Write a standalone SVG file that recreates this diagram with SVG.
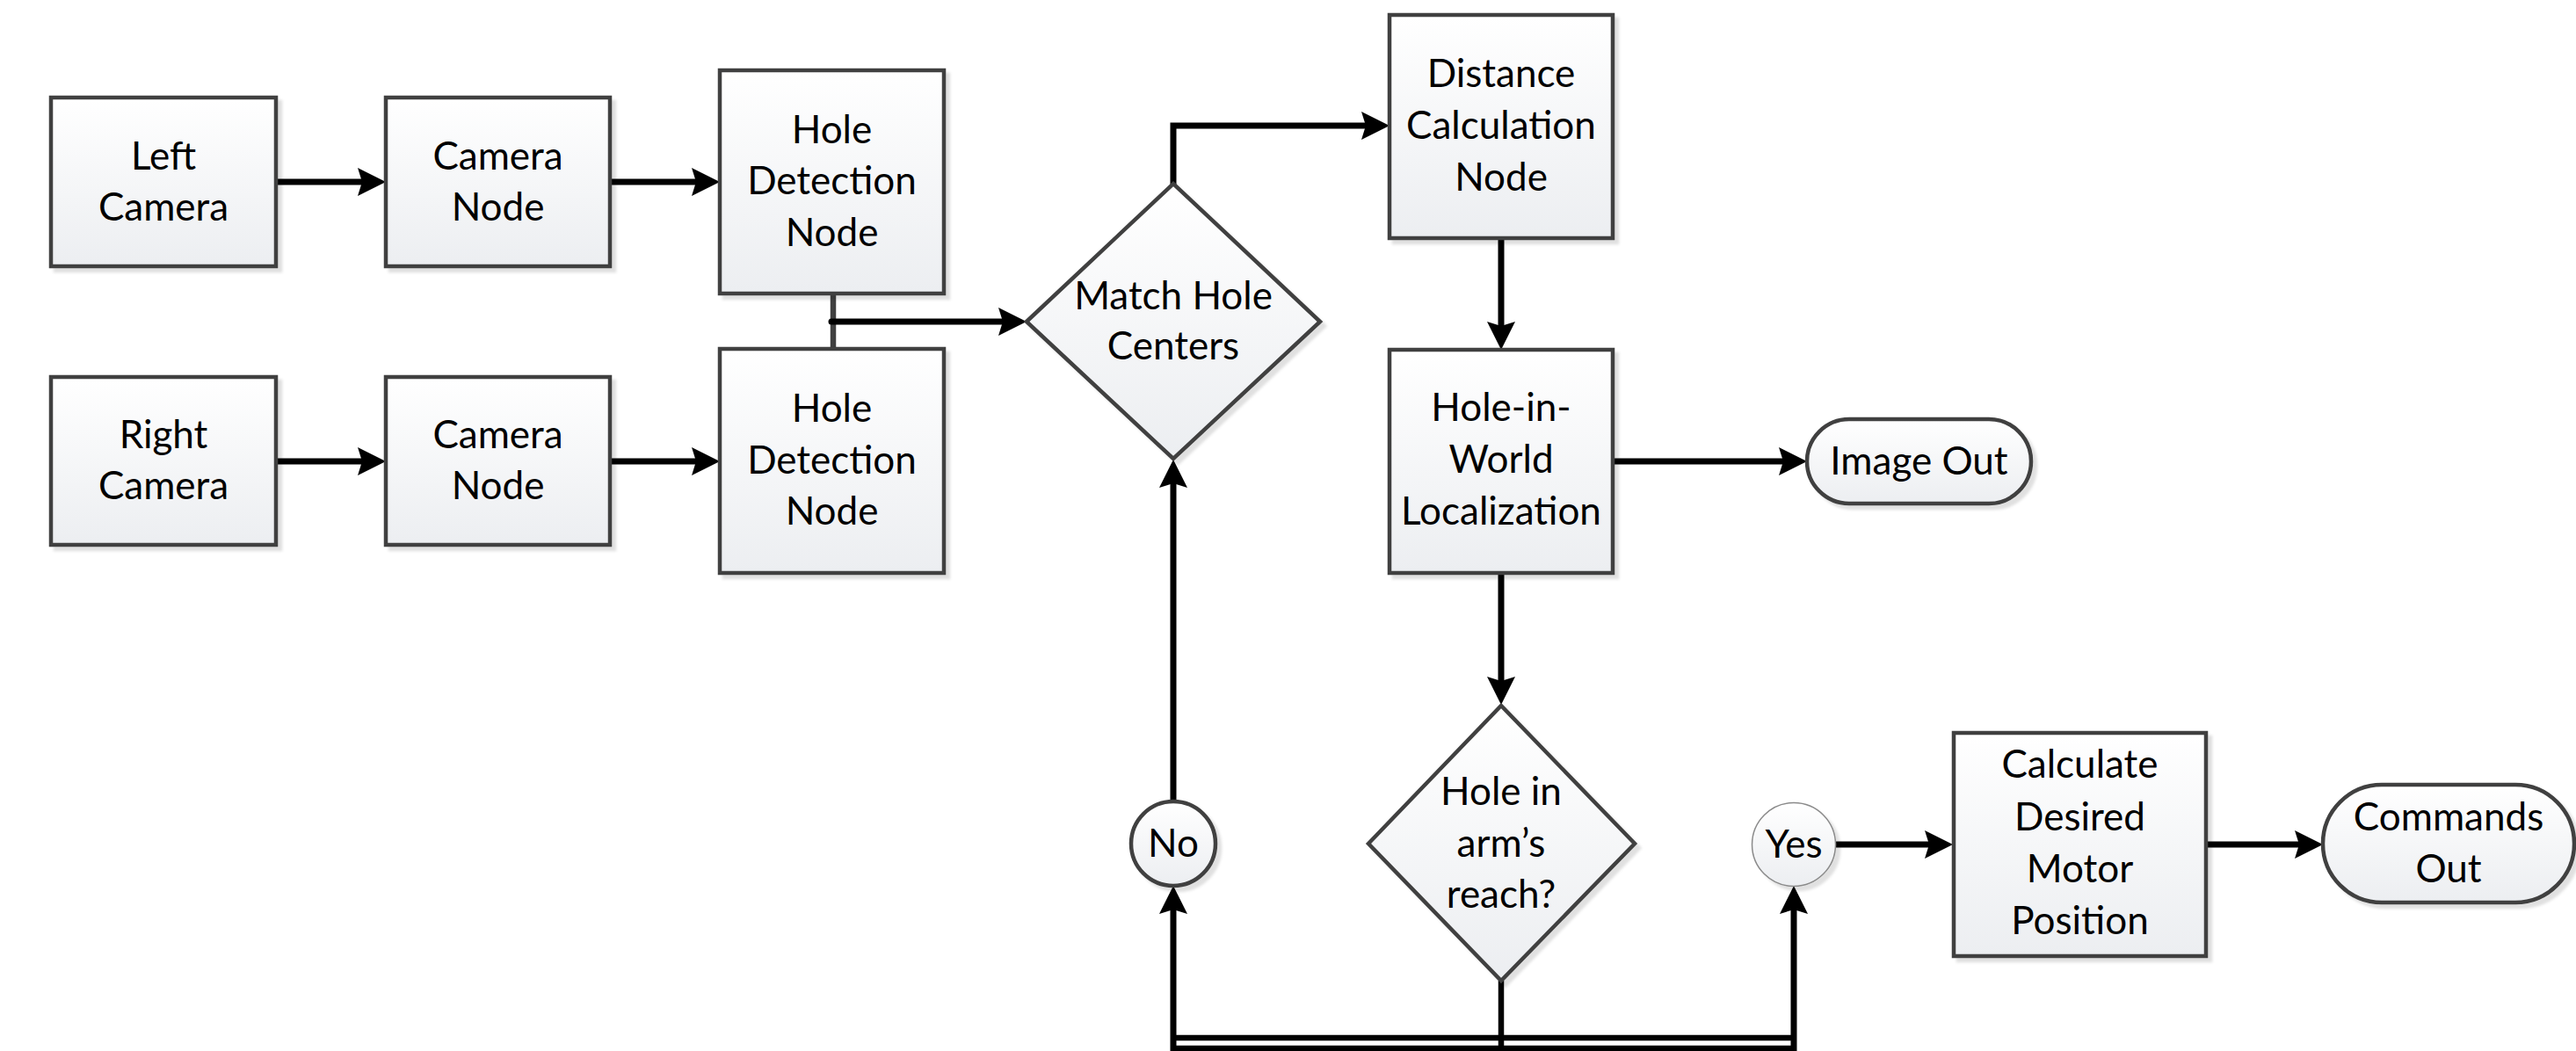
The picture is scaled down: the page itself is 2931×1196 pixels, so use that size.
<svg xmlns="http://www.w3.org/2000/svg" width="2931" height="1196" viewBox="0 0 2931 1196">
  <defs>
    <linearGradient id="fillGrad" x1="0" y1="0" x2="0" y2="1">
      <stop offset="0" stop-color="#ffffff"/>
      <stop offset="1" stop-color="#eceef1"/>
    </linearGradient>
    <filter id="shadow" x="-10%" y="-10%" width="125%" height="125%">
      <feGaussianBlur in="SourceAlpha" stdDeviation="1.5"/>
      <feOffset dx="5" dy="5" result="off"/>
      <feFlood flood-color="#000000" flood-opacity="0.12"/>
      <feComposite in2="off" operator="in"/>
      <feMerge>
        <feMergeNode/>
        <feMergeNode in="SourceGraphic"/>
      </feMerge>
    </filter>
    <marker id="arrow" markerUnits="userSpaceOnUse" markerWidth="40" markerHeight="40" refX="12" refY="16" orient="auto" overflow="visible">
      <path d="M0,0 L32,16 L0,32 L5,16 Z" fill="#000000"/>
    </marker>
  </defs>
  <style>
    .box { fill: url(#fillGrad); stroke: #3f3f3f; stroke-width: 4.5; filter: url(#shadow); }
    .thin { fill: url(#fillGrad); stroke: #8a8a8a; stroke-width: 1.5; filter: url(#shadow); }
    .lbl { font-family: "Lato", "Liberation Sans", sans-serif; font-size: 44px; fill: #000000; text-anchor: middle; }
    .conn { fill: none; stroke: #000000; stroke-width: 7; stroke-linecap: round; stroke-linejoin: miter; }
    .arr { marker-end: url(#arrow); }
    .bus { fill: none; stroke: #000000; stroke-width: 6.5; stroke-linecap: butt; }
    .link { fill: none; stroke: #404040; stroke-width: 6.5; }
  </style>

  <rect width="2931" height="1196" fill="#ffffff"/>

  <!-- connectors -->
  <g id="connectors">
    <path class="conn arr" d="M314,207 H419"/>
    <path class="conn arr" d="M694,207 H799"/>
    <path class="conn arr" d="M314,525 H419"/>
    <path class="conn arr" d="M694,525 H799"/>
    <path class="link" d="M948,334 V397"/>
    <path class="conn arr" d="M946,366 H1148"/>
    <path class="conn arr" d="M1335,209 V143 H1561"/>
    <path class="conn arr" d="M1708,271 V378"/>
    <path class="conn arr" d="M1835,525 H2036"/>
    <path class="conn arr" d="M1708,652 V782"/>
    <path class="conn arr" d="M1335,912 V543"/>
    <path class="bus" d="M1708,1116 V1196"/>
    <path class="bus" d="M1332,1181 H2044"/>
    <path class="bus" d="M1332,1193 H2044"/>
    <path class="conn arr" style="stroke-linecap:butt" d="M1335,1196 V1028"/>
    <path class="conn arr" style="stroke-linecap:butt" d="M2041,1196 V1028"/>
    <path class="conn arr" d="M2088,961 H2202"/>
    <path class="conn arr" d="M2510,961 H2623"/>
  </g>

  <!-- nodes -->
  <g id="left-camera">
    <rect class="box" x="58" y="111" width="256" height="192"/>
    <text class="lbl"><tspan x="186" y="193">Left</tspan><tspan x="186" y="250.5">Camera</tspan></text>
  </g>
  <g id="camera-node-left">
    <rect class="box" x="439" y="111" width="255" height="192"/>
    <text class="lbl"><tspan x="566.5" y="193">Camera</tspan><tspan x="566.5" y="250.5">Node</tspan></text>
  </g>
  <g id="right-camera">
    <rect class="box" x="58" y="429" width="256" height="191"/>
    <text class="lbl"><tspan x="186" y="510">Right</tspan><tspan x="186" y="567.5">Camera</tspan></text>
  </g>
  <g id="camera-node-right">
    <rect class="box" x="439" y="429" width="255" height="191"/>
    <text class="lbl"><tspan x="566.5" y="510">Camera</tspan><tspan x="566.5" y="567.5">Node</tspan></text>
  </g>
  <g id="hole-detection-left">
    <rect class="box" x="819" y="80" width="255" height="254"/>
    <text class="lbl"><tspan x="946.5" y="162.5">Hole</tspan><tspan x="946.5" y="221">Detection</tspan><tspan x="946.5" y="279.5">Node</tspan></text>
  </g>
  <g id="hole-detection-right">
    <rect class="box" x="819" y="397" width="255" height="255"/>
    <text class="lbl"><tspan x="946.5" y="480">Hole</tspan><tspan x="946.5" y="538.5">Detection</tspan><tspan x="946.5" y="597">Node</tspan></text>
  </g>
  <g id="match-hole-centers">
    <polygon class="box" points="1168,366 1335,209 1502,366 1335,522"/>
    <text class="lbl"><tspan x="1335" y="351.5">Match Hole</tspan><tspan x="1335" y="409">Centers</tspan></text>
  </g>
  <g id="distance-calculation">
    <rect class="box" x="1581" y="17" width="254" height="254"/>
    <text class="lbl"><tspan x="1708" y="99">Distance</tspan><tspan x="1708" y="158">Calculation</tspan><tspan x="1708" y="217">Node</tspan></text>
  </g>
  <g id="hole-in-world">
    <rect class="box" x="1581" y="398" width="254" height="254"/>
    <text class="lbl"><tspan x="1708" y="479">Hole-in-</tspan><tspan x="1708" y="538">World</tspan><tspan x="1708" y="597">Localization</tspan></text>
  </g>
  <g id="image-out">
    <rect class="box" x="2056" y="477" width="255" height="96" rx="48" ry="48"/>
    <text class="lbl" x="2183.5" y="539.5">Image Out</text>
  </g>
  <g id="no">
    <circle class="box" cx="1335" cy="960" r="48"/>
    <text class="lbl" x="1335" y="975">No</text>
  </g>
  <g id="in-reach">
    <polygon class="box" points="1557,960 1708,803 1860,960 1708,1116"/>
    <text class="lbl"><tspan x="1708" y="916">Hole in</tspan><tspan x="1708" y="974.5">arm’s</tspan><tspan x="1708" y="1033">reach?</tspan></text>
  </g>
  <g id="yes">
    <circle class="thin" cx="2041" cy="961" r="47.5"/>
    <text class="lbl" x="2041" y="976">Yes</text>
  </g>
  <g id="calculate-motor-position">
    <rect class="box" x="2223" y="834" width="287" height="254"/>
    <text class="lbl"><tspan x="2366.5" y="885">Calculate</tspan><tspan x="2366.5" y="944.5">Desired</tspan><tspan x="2366.5" y="1004">Motor</tspan><tspan x="2366.5" y="1063">Position</tspan></text>
  </g>
  <g id="commands-out">
    <rect class="box" x="2643" y="893" width="286" height="134" rx="67" ry="67"/>
    <text class="lbl"><tspan x="2786" y="945">Commands</tspan><tspan x="2786" y="1003.5">Out</tspan></text>
  </g>
</svg>
